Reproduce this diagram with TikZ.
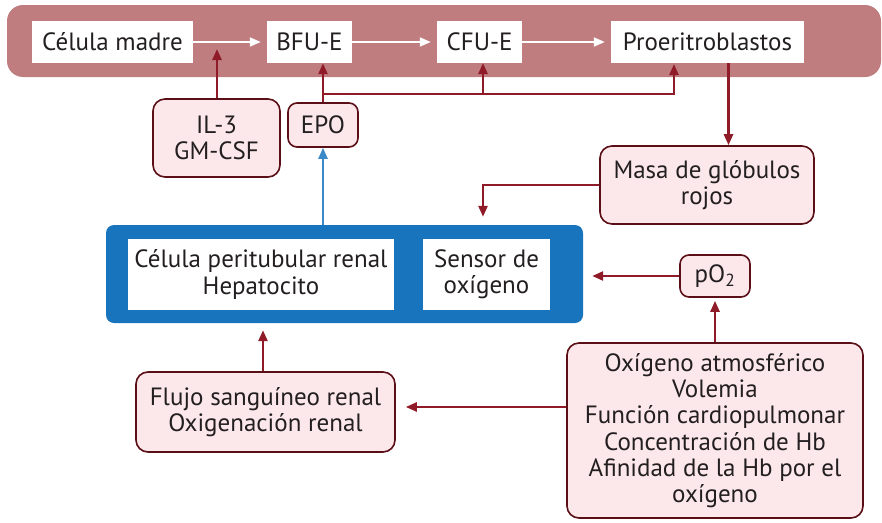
\documentclass[tikz,border=0pt]{standalone}
\usepackage{fontspec}
\setmainfont{PT Sans}
\usetikzlibrary{arrows.meta,positioning}
\definecolor{band}{HTML}{C07D80}
\definecolor{darkred}{HTML}{8E1B27}
\definecolor{boxfill}{HTML}{FCE8EA}
\definecolor{boxline}{HTML}{5A0E16}
\definecolor{blue}{HTML}{1874BD}
\definecolor{txt}{HTML}{231F20}
\tikzstyle{stage}=[fill=white,minimum height=42pt,inner sep=0pt,text=txt]
\tikzstyle{factor}=[draw=boxline,fill=boxfill,line width=1.6pt,rounded corners=12pt,
                align=center,inner sep=0pt,text=txt]
\tikzstyle{cellbox}=[fill=white,minimum height=71pt,inner sep=0pt,align=center,text=txt]
\tikzstyle{hit}=[draw=darkred,line width=2.4pt,-{Triangle[length=11pt,width=9pt]}]
\tikzstyle{whitehit}=[draw=white,line width=2pt,-{Triangle[length=11pt,width=9pt]},shorten >=6pt]
\tikzstyle{bluehit}=[draw=blue!85!white,line width=2.4pt,-{Triangle[length=11pt,width=9pt]}]

\begin{document}
\begin{tikzpicture}[x=1pt,y=-1pt,font=\fontsize{25}{26.3}\selectfont]
\useasboundingbox (0,0) rectangle (882,522);
\fill[band,rounded corners=16pt] (7,5) rectangle (881,77);
\node (cm) [stage,minimum width=161pt] at (112.5,42) {Célula madre};
\node (bfu) [stage,minimum width=85pt] at (309.5,42) {BFU-E};
\node (cfu) [stage,minimum width=85pt] at (479.5,42) {CFU-E};
\node (pro) [stage,minimum width=193pt] at (707.5,42) {Proeritroblastos};
\draw[whitehit] (cm) -- (bfu);
\draw[whitehit] (bfu) -- (cfu);
\draw[whitehit] (cfu) -- (pro);
\node (il3) [factor,minimum width=127pt,minimum height=78pt] at (216.5,138) {IL-3\\GM-CSF};
\node (epo) [factor,rounded corners=9pt,minimum width=70pt,minimum height=44pt] at (323,125) {EPO};
\node (masa) [factor,minimum width=214pt,minimum height=78pt] at (707,185) {Masa de glóbulos\\rojos};
\node (blue) [fill=blue,rounded corners=8pt,minimum width=477pt,minimum height=98pt] at (344.5,274) {};
\node (cpr) [cellbox,minimum width=266pt] at (261,274.5) {Célula peritubular renal\\Hepatocito};
\node (sens) [cellbox,minimum width=127pt] at (486.5,274.5) {Sensor de\\oxígeno};
\node (po2) [factor,rounded corners=9pt,minimum width=70pt,minimum height=42pt] at (715,276) {pO\textsubscript{2}};
\node (flujo) [factor,minimum width=259pt,minimum height=80pt] at (265.5,412) {Flujo sanguíneo renal\\Oxigenación renal};
\node (oxy) [factor,minimum width=296pt,minimum height=175pt] at (715,430.5)
  {Oxígeno atmosférico\\Volemia\\Función cardiopulmonar\\Concentración de Hb\\Afinidad de la Hb por el\\oxígeno};
\coordinate (il3top) at (217,49);
\coordinate (fork) at (323,94);
\draw[hit] (il3.north -| il3top) -- (il3top);
\draw[hit] (epo.north) -- (epo.north |- bfu.south);
\draw[darkred,line width=2.4pt] (fork) -- (674,94);
\draw[hit] (483,94) -- (483,63);
\draw[hit] (674,94.5) -- (674,64);
\draw[hit] ([xshift=21pt]pro.south) -- ([xshift=21pt]pro.south |- masa.north);
\draw[hit,shorten >=8pt] (masa.west) -| (blue.north -| 483,0);
\draw[bluehit] (blue.north -| epo.south) -- (epo.south);
\draw[hit,shorten >=9pt] (po2.west) -- (po2.west -| blue.east);
\draw[hit,shorten >=3pt] (oxy.north -| po2.south) -- (po2.south);
\draw[hit,shorten >=10pt] (oxy.west |- 0,407) -- (flujo.east |- 0,407);
\draw[hit,shorten >=7pt] (flujo.north -| 263,0) -- (blue.south -| 263,0);
\end{tikzpicture}
\end{document}
